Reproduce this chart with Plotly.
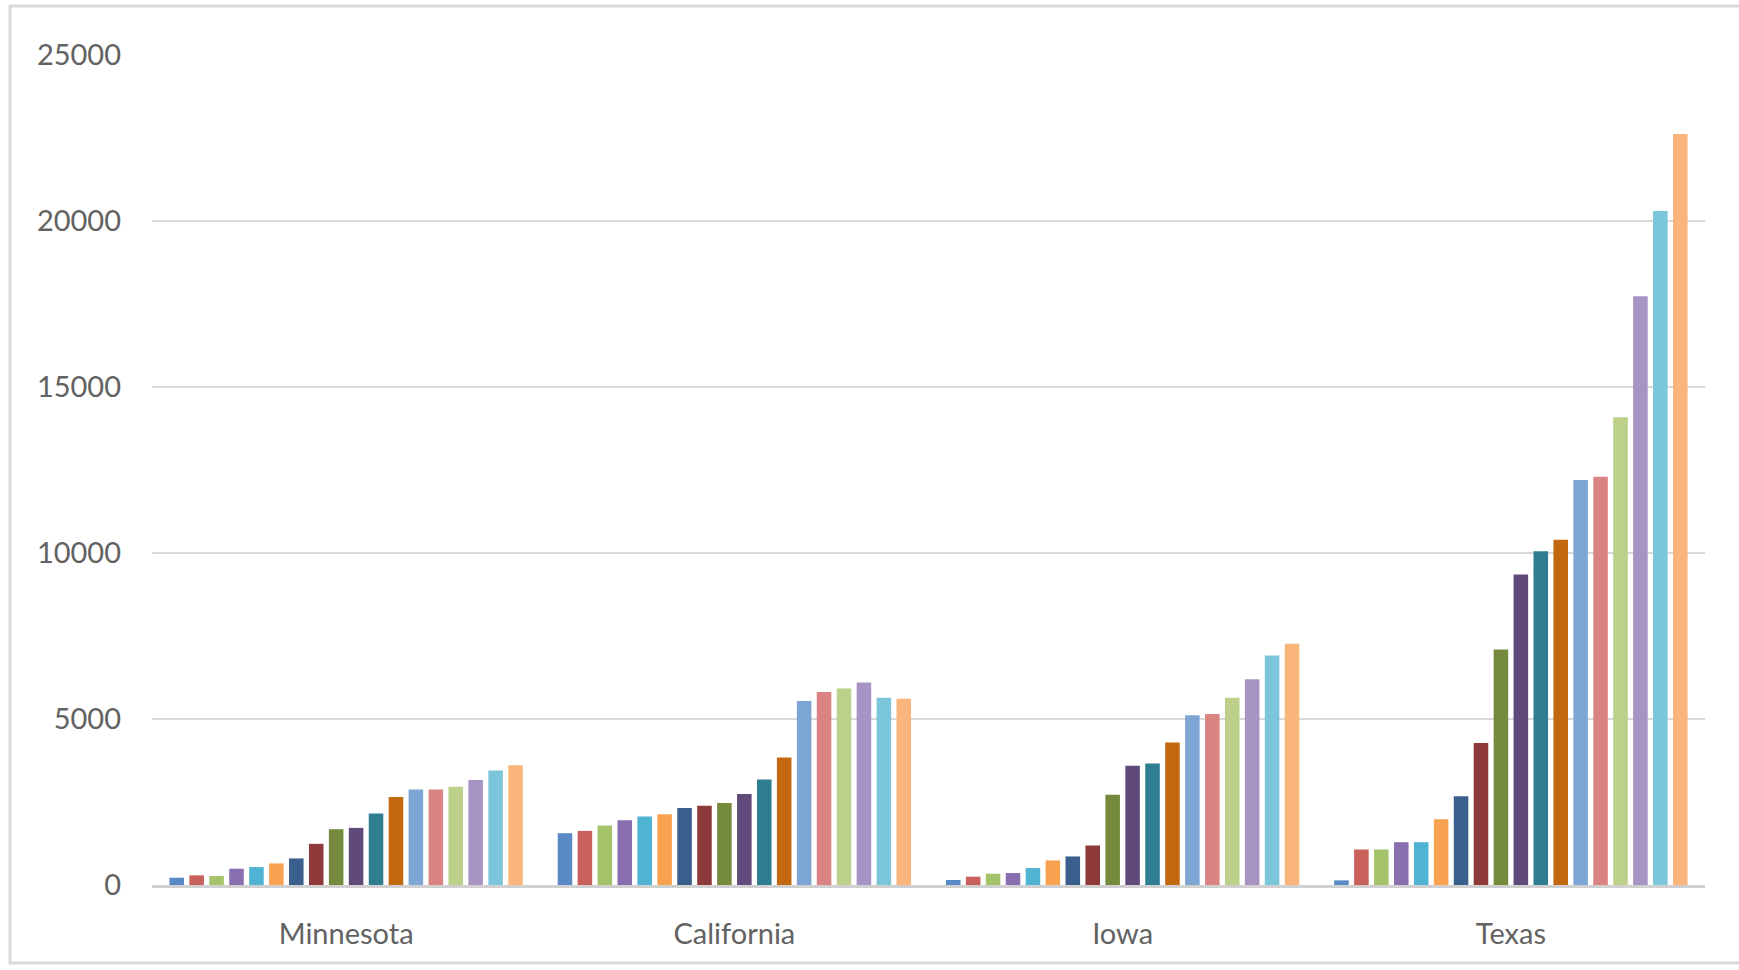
import plotly.graph_objects as go

# States along the x axis
states = ["Minnesota", "California", "Iowa", "Texas"]

# One bar per year inside each state group
years = [str(y) for y in range(2000, 2018)]

minnesota = [220, 290, 270, 490, 540, 650, 800, 1240, 1680, 1720, 2150, 2650, 2880, 2880, 2960, 3160, 3450, 3610]
california = [1560, 1630, 1790, 1950, 2060, 2130, 2320, 2390, 2470, 2740, 3180, 3840, 5540, 5810, 5920, 6100, 5640, 5610]
iowa = [150, 250, 340, 360, 510, 740, 860, 1190, 2720, 3590, 3660, 4290, 5110, 5150, 5640, 6200, 6910, 7270]
texas = [140, 1070, 1070, 1290, 1290, 1980, 2670, 4280, 7090, 9350, 10050, 10400, 12200, 12300, 14090, 17730, 20300, 22620]

y_ticks = [0, 5000, 10000, 15000, 20000, 25000]

colors = [
    "#5A8AC6", "#C9605B", "#A4C36A", "#8A6FB0", "#4FB4D3", "#F8A24F",
    "#3A5F8C", "#8E3A3A", "#768A3E", "#604A7B", "#2F7D91", "#C4680F",
    "#7EA6D4", "#DA8383", "#BDD08A", "#A794C4", "#7BC6DA", "#F9B57B",
]

by_state = [minnesota, california, iowa, texas]

fig = go.Figure()
for i, year in enumerate(years):
    fig.add_trace(go.Bar(
        name=year,
        x=states,
        y=[vals[i] for vals in by_state],
        marker=dict(color=colors[i], line=dict(width=0)),
    ))

label_font = dict(family="Lato, 'Open Sans', sans-serif", size=29, color="#626262")

fig.update_layout(
    width=1739,
    height=970,
    barmode="group",
    bargap=0.076,
    bargroupgap=0.27,
    showlegend=False,
    paper_bgcolor="white",
    plot_bgcolor="white",
    margin=dict(l=152, r=34, t=55, b=85),
    font=label_font,
    xaxis=dict(
        showgrid=False,
        showline=True,
        linecolor="#D0D0D0",
        linewidth=3,
        ticks="",
        tickfont=label_font,
        ticklabelstandoff=21,
    ),
    yaxis=dict(
        range=[0, 25000],
        tickvals=y_ticks,
        ticktext=[str(v) for v in y_ticks],
        showgrid=True,
        gridcolor="#D9D9D9",
        gridwidth=2,
        zeroline=False,
        showline=False,
        ticks="",
        tickfont=label_font,
        ticklabelstandoff=30,
    ),
    shapes=[
        # light border around the chart area
        dict(
            type="rect", xref="paper", yref="paper",
            x0=-0.0914, x1=1.05, y0=-0.094, y1=1.059,
            line=dict(color="#D9D9D9", width=3),
            fillcolor="rgba(0,0,0,0)",
            layer="below",
        ),
    ],
)

fig.write_html("out.html")
